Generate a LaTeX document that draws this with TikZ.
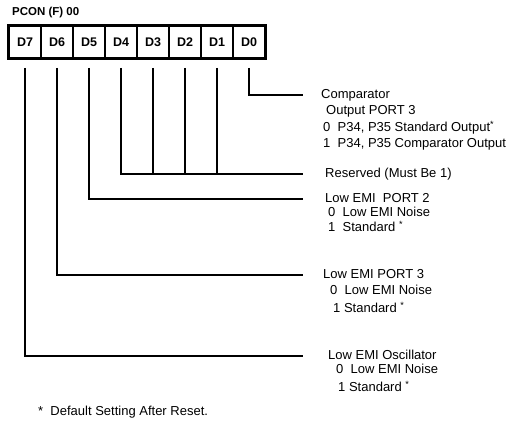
\documentclass[tikz,border=0pt]{standalone}
\usepackage{fontspec}
\setmainfont{Liberation Sans}
\usetikzlibrary{positioning, fit}
\tikzset{
  bitcell/.style={draw, line width=1.8pt, minimum width=32pt, minimum height=32pt, inner sep=0pt, font=\fontsize{12.5}{15}\selectfont\bfseries},
  lead/.style={line width=1.4pt},
  desc/.style={anchor=west, inner sep=0pt, font=\fontsize{13}{15}\selectfont, text height=9pt, text depth=2pt},
}

\begin{document}
\begin{tikzpicture}[x=1pt, y=-1pt]
  \useasboundingbox (0,0) rectangle (532,425);

  % Register name
  \node[desc, font=\fontsize{11.5}{13}\selectfont\bfseries] (title) at (12,12) {PCON (F) 00};

  % Bit cells D7..D0
  \foreach \b [count=\i from 0] in {7,...,0}
    \node[bitcell] (d\b) at (25+32*\i, 42) {D\b};
  \node[draw, line width=2.4pt, inner sep=0pt, fit=(d7)(d0)] (reg) {};

  % Right end of the leader lines
  \coordinate (rim) at (303,0);

  % Comparator
  \node[desc] (cmp) at (321,95) {Comparator};
  \node[desc] (cmpa) at (326,111) {Output PORT 3};
  \node[desc] (cmpb) at (323,128) {0\ \ P34, P35 Standard Output\textsuperscript{*}};
  \node[desc] (cmpc) at (323,144) {1\ \ P34, P35 Comparator Output};

  % Reserved
  \node[desc] (rsv) at (325,174) {Reserved (Must Be 1)};

  % Low EMI port 2
  \node[desc] (pta) at (325,199) {Low EMI\ \ PORT 2};
  \node[desc] (ptaa) at (328,213) {0\ \ Low EMI Noise};
  \node[desc] (ptab) at (328,228) {1\ \ Standard \textsuperscript{*}};

  % Low EMI port 3
  \node[desc] (ptb) at (323,275) {Low EMI PORT 3};
  \node[desc] (ptba) at (330,291) {0\ \ Low EMI Noise};
  \node[desc] (ptbb) at (333,309) {1 Standard \textsuperscript{*}};

  % Low EMI oscillator
  \node[desc] (osc) at (328,356) {Low EMI Oscillator};
  \node[desc] (osca) at (336,370) {0\ \ Low EMI Noise};
  \node[desc] (oscb) at (338,388) {1 Standard \textsuperscript{*}};

  % Leader lines
  \draw[lead] ([yshift=-9pt]d0.south) |- (rim |- cmp.west);
  \draw[lead] ([yshift=-9pt]d4.south) |- (rim |- rsv.west);
  \foreach \b in {3,2,1}
    \draw[lead] ([yshift=-9pt]d\b.south) -- (d\b |- rsv.west);
  \draw[lead] ([yshift=-9pt]d5.south) |- (rim |- pta.west);
  \draw[lead] ([yshift=-9pt]d6.south) |- (rim |- ptb.west);
  \draw[lead] ([yshift=-9pt]d7.south) |- (rim |- osc.west);

  % Footnote
  \node[desc] (note) at (38,412) {*\ \ Default Setting After Reset.};
\end{tikzpicture}
\end{document}
